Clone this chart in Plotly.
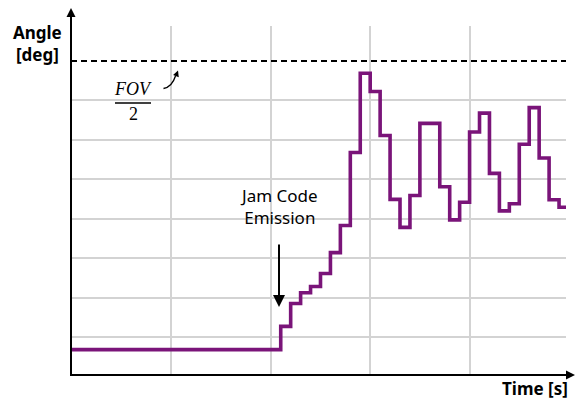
import numpy as np
import plotly.graph_objects as go

# Angle (deg, in grid units) versus time (s); stepwise response
times = [0, 2.1, 2.2, 2.3, 2.4, 2.5, 2.6, 2.7, 2.8, 2.9, 3.0, 3.1, 3.2, 3.3, 3.4,
         3.5, 3.7, 3.8, 3.9, 4.0, 4.1, 4.2, 4.3, 4.4, 4.5, 4.6, 4.7, 4.8, 4.9, 4.97]
angles = [0.68, 1.27, 1.85, 2.12, 2.28, 2.61, 3.14, 3.83, 5.68, 7.69, 7.23, 6.11,
          4.49, 3.78, 4.59, 6.42, 4.81, 3.97, 4.42, 6.20, 6.68, 5.15, 4.20, 4.38,
          5.89, 6.82, 5.54, 4.48, 4.29, 4.29]
fov_half = 8
x_grid = [1, 2, 3, 4]
y_grid = [1, 2, 3, 4, 5, 6, 7]

W, H = 583, 400
ML, MR, MT, MB = 71, 17, 26, 25
PW, PH = W - ML - MR, H - MT - MB
XMIN, XMAX = -0.01, 4.97
YMIN, YMAX = 0.035, 8.89


def xd(px):
    return XMIN + (px - ML) / PW * (XMAX - XMIN)


def yd(py):
    return YMIN + (H - MB - py) / PH * (YMAX - YMIN)


def xp(px):
    return (px - ML) / PW


def yp(py):
    return (H - MB - py) / PH


fig = go.Figure()
fig.add_trace(go.Scatter(
    x=times, y=angles, mode="lines",
    line=dict(shape="hv", color="#7a1479", width=3.6),
    hoverinfo="skip", showlegend=False,
))

shapes = []
# half field-of-view reference
shapes.append(dict(type="line", xref="paper", yref="y", x0=0, x1=1,
                   y0=fov_half, y1=fov_half,
                   line=dict(color="black", width=2, dash="6px,4px")))
# axes with arrowheads
shapes.append(dict(type="line", xref="paper", yref="paper",
                   x0=xp(71), x1=xp(71), y0=yp(375.5), y1=yp(15),
                   line=dict(color="black", width=2)))
shapes.append(dict(type="path", xref="paper", yref="paper",
                   path=f"M {xp(71)},{yp(8)} L {xp(66.5)},{yp(17)} L {xp(75.5)},{yp(17)} Z",
                   fillcolor="black", line=dict(width=0)))
shapes.append(dict(type="line", xref="paper", yref="paper",
                   x0=xp(70), x1=xp(567), y0=yp(375), y1=yp(375),
                   line=dict(color="black", width=2)))
shapes.append(dict(type="path", xref="paper", yref="paper",
                   path=f"M {xp(575)},{yp(375)} L {xp(566)},{yp(370.5)} L {xp(566)},{yp(379.5)} Z",
                   fillcolor="black", line=dict(width=0)))
# fraction bar of FOV/2
shapes.append(dict(type="line", xref="x", yref="y",
                   x0=xd(115), x1=xd(151), y0=yd(103), y1=yd(103),
                   line=dict(color="black", width=1.3)))
# small curved pointer towards the dashed line
p0, c, p1, tip = (163.5, 88.5), (172, 87), (175.5, 76), (178, 70.5)
shapes.append(dict(type="path", xref="x", yref="y",
                   path=(f"M {xd(p0[0])},{yd(p0[1])} Q {xd(c[0])},{yd(c[1])} "
                         f"{xd(p1[0])},{yd(p1[1])}"),
                   line=dict(color="black", width=1.3)))
d = np.array(tip) - np.array(c)
d = d / np.linalg.norm(d)
n = np.array([-d[1], d[0]])
base = np.array(tip) - 6 * d
b1, b2 = base + 3 * n, base - 3 * n
shapes.append(dict(type="path", xref="x", yref="y",
                   path=(f"M {xd(tip[0])},{yd(tip[1])} L {xd(b1[0])},{yd(b1[1])} "
                         f"L {xd(b2[0])},{yd(b2[1])} Z"),
                   fillcolor="black", line=dict(width=0)))

annotations = [
    dict(xref="paper", yref="paper", x=xp(37), y=yp(43), text="<b>Angle<br>[deg]</b>",
         showarrow=False, xanchor="center", yanchor="middle",
         font=dict(family="Noto Sans", size=17, color="black")),
    dict(xref="paper", yref="paper", x=xp(535), y=yp(388), text="<b>Time [s]</b>",
         showarrow=False, xanchor="center", yanchor="middle",
         font=dict(family="Noto Sans", size=17, color="black")),
    dict(xref="x", yref="y", x=xd(279), y=yd(206), text="Jam Code<br>Emission",
         showarrow=False, xanchor="center", yanchor="middle",
         font=dict(family="Noto Sans", size=17, color="black")),
    dict(xref="x", yref="y", x=xd(279), y=yd(307), text="",
         showarrow=True, axref="x", ayref="y", ax=xd(279), ay=yd(243),
         arrowhead=2, arrowsize=1.2, arrowwidth=2, arrowcolor="black"),
    dict(xref="x", yref="y", x=xd(133), y=yd(89), text="<i>FOV</i>",
         showarrow=False, xanchor="center", yanchor="middle",
         font=dict(family="Liberation Serif", size=18, color="black")),
    dict(xref="x", yref="y", x=xd(133), y=yd(114), text="2",
         showarrow=False, xanchor="center", yanchor="middle",
         font=dict(family="Liberation Serif", size=18, color="black")),
]

axis_common = dict(showticklabels=False, ticks="", showline=False, zeroline=False,
                   showgrid=True, gridcolor="#d3d3d3", gridwidth=1.5, fixedrange=True)
fig.update_layout(
    width=W, height=H,
    margin=dict(l=ML, r=MR, t=MT, b=MB),
    paper_bgcolor="white", plot_bgcolor="white",
    xaxis=dict(range=[XMIN, XMAX], tickvals=x_grid, **axis_common),
    yaxis=dict(range=[YMIN, YMAX], tickvals=y_grid, **axis_common),
    shapes=shapes, annotations=annotations,
)
fig.write_html("out.html")
